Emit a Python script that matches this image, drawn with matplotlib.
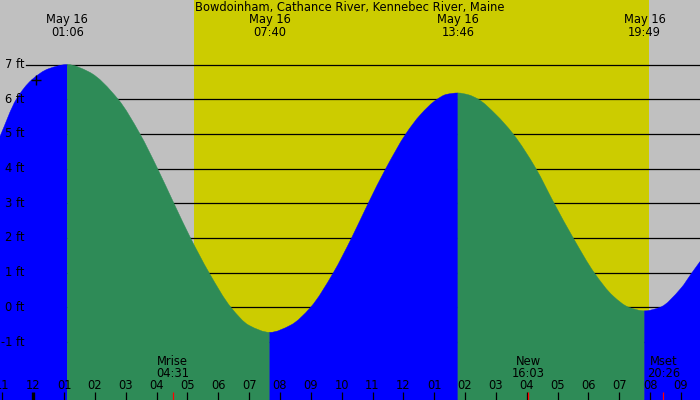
import matplotlib
matplotlib.use("Agg")
import matplotlib.pyplot as plt
from matplotlib.path import Path
from matplotlib.patches import PathPatch
import numpy as np

# ---- data (hours since midnight May 16, heights in ft) ----
title = "Bowdoinham, Cathance River, Kennebec River, Maine"
curve_hours = [-1.08, -0.55, -0.05, 0.5, 1.1, 1.8, 2.75, 3.46, 4.03, 4.56, 5.10,
               5.70, 6.41, 7.0, 7.67, 8.35, 8.99, 9.73, 10.32, 10.86, 11.43,
               12.08, 12.55, 13.08, 13.4, 13.77, 14.1, 14.43, 15.0, 15.56, 16.30,
               16.89, 17.51, 18.19, 18.8, 19.32, 19.82, 20.32, 21.0, 21.36, 21.62]
curve_heights = [4.93, 6.0, 6.56, 6.88, 7.0, 6.79, 6.0, 5.0, 4.0, 3.0, 2.0,
                 1.0, 0.0, -0.52, -0.72, -0.51, 0.0, 1.0, 2.0, 3.0, 4.0,
                 5.0, 5.55, 5.99, 6.14, 6.18, 6.13, 6.0, 5.56, 5.0, 4.0,
                 3.0, 2.0, 1.0, 0.33, 0.0, -0.1, 0.0, 0.55, 1.0, 1.32]
extreme_hours = [1.1, 7.67, 13.77, 19.82]
extreme_labels = ["May 16\n01:06", "May 16\n07:40", "May 16\n13:46", "May 16\n19:49"]
sunrise, sunset = 5.21, 19.96
moon_hours = [4.517, 16.05, 20.433]
moon_labels = ["Mrise\n04:31", "New\n16:03", "Mset\n20:26"]
hour_ticks = list(range(-1, 22))
hour_labels = ["%02d" % (((h % 12) or 12)) for h in hour_ticks]
ft_levels = list(range(-1, 8))
ft_labels = ["%d ft" % v for v in ft_levels]
now_hour, now_height = 0.09, 6.55

GRAY = "#c0c0c0"
YELLOW = "#cccc00"
BLUE = "#0000ff"
GREEN = "#2e8b57"

fig = plt.figure(figsize=(7, 4), dpi=100, facecolor=GRAY)
ax = fig.add_axes([0, 0, 1, 1])
ax.set_axis_off()
x0, x1 = -1.08, 21.62
y0, y1 = -2.67, 8.86
ax.set_xlim(x0, x1)
ax.set_ylim(y0, y1)

ax.axvspan(sunrise, sunset, color=YELLOW, lw=0, zorder=0)
for v in ft_levels:
    ax.axhline(v, xmin=26 / 700, xmax=1, color="black", lw=0.9, zorder=1)


def pchip_slopes(x, y):
    # monotone (Fritsch-Carlson) tangents for a smooth Bezier rendering
    dx = np.diff(x)
    d = np.diff(y) / dx
    m = np.zeros_like(y)
    for i in range(1, len(y) - 1):
        if d[i - 1] * d[i] > 0:
            w1 = 2 * dx[i] + dx[i - 1]
            w2 = dx[i] + 2 * dx[i - 1]
            m[i] = (w1 + w2) / (w1 / d[i - 1] + w2 / d[i])
    m[0] = d[0]
    m[-1] = d[-1]
    return m


t = np.array(curve_hours)
h = np.array(curve_heights)
slopes = pchip_slopes(t, h)
bounds = [x0] + extreme_hours + [x1]
for a, b in zip(bounds[:-1], bounds[1:]):
    idx = np.where((t >= a - 1e-9) & (t <= b + 1e-9))[0]
    col = BLUE if h[idx[-1]] > h[idx[0]] else GREEN
    verts = [(t[idx[0]], y0), (t[idx[0]], h[idx[0]])]
    codes = [Path.MOVETO, Path.LINETO]
    for i, j in zip(idx[:-1], idx[1:]):
        dx = t[j] - t[i]
        verts += [(t[i] + dx / 3, h[i] + slopes[i] * dx / 3),
                  (t[j] - dx / 3, h[j] - slopes[j] * dx / 3),
                  (t[j], h[j])]
        codes += [Path.CURVE4] * 3
    verts += [(t[idx[-1]], y0), (t[idx[0]], y0)]
    codes += [Path.LINETO, Path.CLOSEPOLY]
    ax.add_patch(PathPatch(Path(verts, codes), facecolor=col, edgecolor=col,
                           lw=0.3, zorder=2))

ax.plot([now_hour], [now_height], marker="+", color="black", ms=7, mew=1.0, zorder=4)

fs = 8.3
xt = ax.get_xaxis_transform()
for v, lab in zip(ft_levels, ft_labels):
    ax.text(24.5 / 700, v, lab, transform=ax.get_yaxis_transform(), ha="right",
            va="center", fontsize=fs, zorder=5)

ax.text(0.5, 1 - 7.5 / 400, title, transform=ax.transAxes, ha="center", va="center",
        fontsize=fs, zorder=5)
for eh, lab in zip(extreme_hours, extreme_labels):
    ax.text(eh, 1 - 26 / 400, lab, transform=xt, ha="center", va="center",
            fontsize=fs, linespacing=0.95, zorder=5)
for mh, lab in zip(moon_hours, moon_labels):
    ax.text(mh, 1 - 367.5 / 400, lab, transform=xt, ha="center", va="center",
            fontsize=fs, linespacing=0.95, zorder=5)
for hr, lab in zip(hour_ticks, hour_labels):
    ax.text(hr, 1 - 385.5 / 400, lab, transform=xt, ha="center", va="center",
            fontsize=fs, zorder=5)
    ax.plot([hr, hr], [0, 8 / 400], transform=xt, color="black",
            lw=(2.4 if hr == 0 else 0.9), zorder=5, solid_capstyle="butt")
for mh in moon_hours:
    ax.plot([mh, mh], [0, 8 / 400], transform=xt, color="red", lw=0.9, zorder=6,
            solid_capstyle="butt")

fig.savefig("out.png", dpi=100, facecolor=GRAY)
